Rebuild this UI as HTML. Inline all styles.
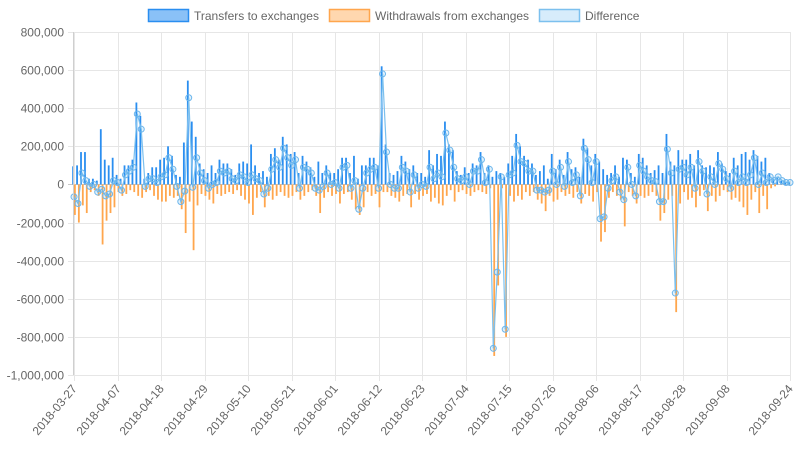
<!DOCTYPE html>
<html><head><meta charset="utf-8"><style>
html,body{margin:0;padding:0;background:#fff;}
svg{display:block;font-family:"Liberation Sans",Arial,sans-serif;}
</style></head><body>
<svg id="chart" width="798" height="450">
  <g id="legend">
    <g>
      <rect x="148.5" y="9.5" width="40" height="12" fill="rgba(42,142,240,0.55)" stroke="#2a8ef0" stroke-width="1.5"/>
      <text x="194" y="20" font-size="12" fill="#666">Transfers to exchanges</text>
    </g>
    <g>
      <rect x="329.5" y="9.5" width="40" height="12" fill="rgba(255,166,77,0.45)" stroke="#ffa64d" stroke-width="1.5"/>
      <text x="375" y="20" font-size="12" fill="#666">Withdrawals from exchanges</text>
    </g>
    <g>
      <rect x="539.5" y="9.5" width="40" height="12" fill="rgba(54,162,235,0.2)" stroke="#7cc0ee" stroke-width="1.5"/>
      <text x="585" y="20" font-size="12" fill="#666">Difference</text>
    </g>
  </g>
  <g id="grid"></g>
  <g id="bars"></g>
  <g id="line"></g>
  <g id="axes"></g>
</svg>
<script>
const transfers = [95,100,170,170,30,30,20,290,130,100,
140,50,30,100,100,130,430,360,30,60,
90,90,130,140,200,150,50,40,220,545,
330,250,110,80,60,100,60,130,110,110,
80,50,110,120,110,210,100,60,70,40,
160,190,130,250,210,160,170,60,150,120,
90,40,120,60,100,60,60,80,140,140,
60,150,30,100,100,140,140,100,620,210,
60,50,70,150,120,80,100,60,60,40,
180,100,160,150,330,210,180,70,50,90,
60,110,100,170,60,100,40,70,60,40,
110,150,265,200,150,130,110,50,70,100,
30,160,80,130,50,170,80,90,40,240,
190,100,160,120,80,50,60,100,40,140,
130,60,40,160,140,100,60,75,100,60,
265,120,100,180,130,130,160,100,180,100,
90,100,90,170,110,70,60,140,100,160,
170,130,180,150,120,140,60,30,40,20,
10,10];
const withdrawals = [-160,-200,-110,-150,-40,-30,-60,-315,-190,-150,
-120,-40,-60,-50,-30,-40,-60,-70,-40,-30,
-60,-80,-90,-90,-60,-70,-60,-130,-255,-90,
-345,-110,-50,-60,-80,-100,-50,-60,-50,-40,
-50,-30,-60,-80,-100,-160,-70,-40,-120,-60,
-80,-60,-40,-60,-70,-60,-40,-80,-60,-40,
-30,-60,-150,-70,-40,-60,-50,-100,-50,-40,
-80,-130,-160,-120,-40,-60,-50,-120,-40,-40,
-60,-70,-90,-60,-50,-120,-50,-80,-60,-50,
-90,-70,-100,-110,-60,-30,-90,-40,-30,-50,
-60,-40,-30,-40,-50,-20,-900,-530,-20,-800,
-60,-90,-60,-80,-40,-60,-40,-80,-100,-140,
-60,-90,-80,-40,-60,-50,-70,-40,-100,-50,
-60,-90,-40,-300,-250,-70,-40,-60,-80,-220,
-40,-60,-100,-60,-70,-60,-40,-60,-190,-150,
-80,-60,-670,-100,-40,-80,-70,-120,-60,-30,
-140,-60,-90,-60,-30,-40,-80,-70,-90,-120,
-160,-80,-40,-150,-60,-130,-20,-10,0,0,
0,0];
const yTicks = [800000,600000,400000,200000,0,-200000,-400000,-600000,-800000,-1000000];
const xTickLabels = ["2018-03-27","2018-04-07","2018-04-18","2018-04-29","2018-05-10","2018-05-21","2018-06-01","2018-06-12","2018-06-23","2018-07-04","2018-07-15","2018-07-26","2018-08-06","2018-08-17","2018-08-28","2018-09-08","2018-09-24"];
const xTickDays = [0,11,22,33,44,55,66,77,88,99,110,121,132,143,154,165,181];

const NS="http://www.w3.org/2000/svg";
const L=74,R=790,T=32,B=375;
const nDays=transfers.length;
const xs=d=>L+(R-L)*d/(nDays-1);
const ys=v=>T+(B-T)*(800000-v)/1800000;
function mk(tag,attrs,parent){const e=document.createElementNS(NS,tag);for(const k in attrs)e.setAttribute(k,attrs[k]);parent.appendChild(e);return e;}
const grid=document.getElementById('grid'),bars=document.getElementById('bars'),line=document.getElementById('line'),axes=document.getElementById('axes');

yTicks.forEach(v=>{
  const y=Math.round(ys(v))+0.5;
  const g=mk('line',{x1:L-6,x2:R,y1:y,y2:y,stroke:v===0?'#c8c8c8':'#e6e6e6','stroke-width':1},grid);
  
  
  const t=mk('text',{x:L-10,y:y+4,'text-anchor':'end','font-size':12,fill:'#666'},axes);
  t.textContent=v.toLocaleString('en-US');
  
  
});
xTickDays.forEach((d,i)=>{
  const x=Math.round(xs(d))+0.5;
  const g=mk('line',{x1:x,x2:x,y1:T,y2:B+6,stroke:'#e6e6e6','stroke-width':1},grid);
  
  
  const t=mk('text',{x:x+3,y:B+14,'text-anchor':'end','font-size':12,fill:'#666',transform:`rotate(-50 ${x+3} ${B+14})`},axes);
  t.textContent=xTickLabels[i];
  
  
});
mk('line',{x1:L-0.5,x2:L-0.5,y1:T,y2:B,stroke:'#cfcfcf'},axes);

const bw=1.8, z=ys(0);
for(let i=0;i<nDays;i++){
  const cx=xs(i);
  const yb=ys(transfers[i]*1000);
  const b=mk('rect',{x:cx-bw,y:Math.min(yb,z),width:bw,height:Math.abs(z-yb),fill:'#2a8ef0'},bars);
  
  
  const yo=ys(withdrawals[i]*1000);
  const o=mk('rect',{x:cx,y:Math.min(yo,z),width:bw,height:Math.abs(yo-z),fill:'#ffa64d'},bars);
  
  
}
const pts=[];
for(let i=0;i<nDays;i++){pts.push([xs(i),ys((transfers[i]+withdrawals[i])*1000)]);}
const p=mk('polyline',{points:pts.map(q=>q[0].toFixed(1)+','+q[1].toFixed(1)).join(' '),fill:'none',stroke:'#7cc0ee','stroke-width':1.2},line);


pts.forEach(q=>{
  const c=mk('circle',{cx:q[0],cy:q[1],r:3,fill:'rgba(54,162,235,0.15)',stroke:'#6cb6ec','stroke-width':1},line);
  
  
});
</script>
</body></html>
